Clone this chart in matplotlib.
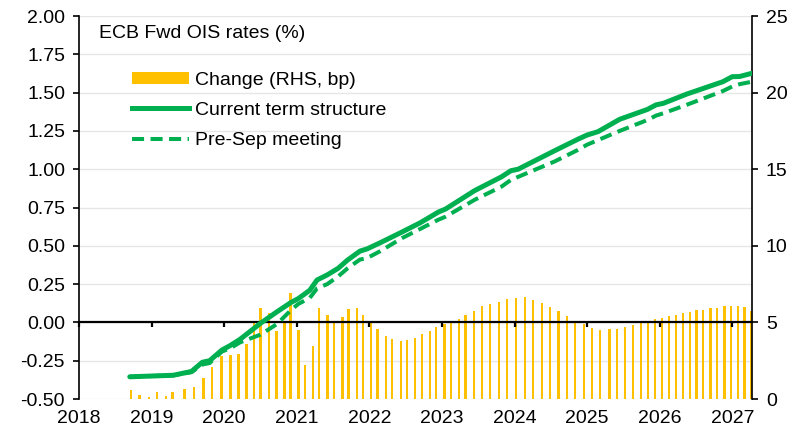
import numpy as np
import matplotlib.pyplot as plt
from matplotlib.patches import Patch
from matplotlib.lines import Line2D

plt.rcParams['font.family'] = ['Liberation Sans', 'DejaVu Sans']

# change between the two curves, bp (right axis), at each forward date
bar_dates = [2018.72, 2018.835, 2018.968, 2019.078, 2019.202, 2019.289, 2019.454, 2019.587, 2019.715, 2019.829,
             2019.963, 2020.087, 2020.197, 2020.31, 2020.413, 2020.503, 2020.619, 2020.723, 2020.83, 2020.912,
             2021.025, 2021.114, 2021.225, 2021.308, 2021.424, 2021.517, 2021.632, 2021.714, 2021.831, 2021.916,
             2022.026, 2022.113, 2022.233, 2022.315, 2022.435, 2022.517, 2022.631, 2022.723, 2022.838, 2022.920,
             2023.034, 2023.122, 2023.236, 2023.323, 2023.443, 2023.553, 2023.667, 2023.783, 2023.897, 2024.021,
             2024.141, 2024.259, 2024.378, 2024.492, 2024.608, 2024.722, 2024.837, 2024.956, 2025.066, 2025.18,
             2025.31, 2025.41, 2025.52, 2025.63, 2025.74, 2025.836, 2025.932, 2026.029, 2026.129, 2026.221,
             2026.318, 2026.414, 2026.506, 2026.597, 2026.699, 2026.79, 2026.891, 2026.987, 2027.078, 2027.17, 2027.267]
bar_bp = [0.59, 0.26, 0.11, 0.44, 0.20, 0.48, 0.68, 0.79, 1.39, 2.08,
          2.80, 2.85, 2.94, 3.61, 4.95, 5.95, 5.62, 4.46, 4.97, 6.91,
          4.52, 2.19, 3.49, 5.93, 5.50, 5.10, 5.34, 5.85, 5.95, 5.50,
          4.97, 4.54, 4.13, 3.89, 3.81, 3.83, 3.98, 4.22, 4.46, 4.68,
          4.90, 5.12, 5.25, 5.51, 5.77, 6.04, 6.21, 6.36, 6.50, 6.61,
          6.63, 6.48, 6.28, 6.02, 5.73, 5.43, 5.10, 4.88, 4.66, 4.53,
          4.55, 4.59, 4.70, 4.86, 4.96, 5.10, 5.20, 5.31, 5.40, 5.51,
          5.60, 5.71, 5.79, 5.84, 5.91, 5.97, 6.04, 6.04, 6.04, 5.99, 5.77]

# forward OIS curves, % (left axis)
line_dates = [2018.70, 2019.0, 2019.30, 2019.55, 2019.70, 2019.80, 2019.97, 2020.08, 2020.22, 2020.50,
              2020.73, 2020.92, 2021.02, 2021.18, 2021.28, 2021.42, 2021.57, 2021.70, 2021.87, 2021.97,
              2022.15, 2022.45, 2022.70, 2022.95, 2023.05, 2023.25, 2023.45, 2023.82, 2023.95, 2024.05,
              2024.55, 2024.87, 2025.0, 2025.15, 2025.45, 2025.83, 2025.95, 2026.05, 2026.37, 2026.87,
              2027.0, 2027.1, 2027.27]
current = [-0.355, -0.35, -0.345, -0.32, -0.26, -0.25, -0.18, -0.152, -0.11, -0.006,
           0.07, 0.13, 0.155, 0.21, 0.277, 0.31, 0.353, 0.407, 0.465, 0.48,
           0.52, 0.59, 0.65, 0.72, 0.74, 0.80, 0.86, 0.95, 0.99, 1.00,
           1.12, 1.195, 1.223, 1.245, 1.326, 1.39, 1.42, 1.43, 1.49, 1.571,
           1.604, 1.605, 1.626]
pre_sep = [-0.355, -0.35, -0.345, -0.325, -0.275, -0.265, -0.19, -0.17, -0.13, -0.08,
           -0.01, 0.08, 0.12, 0.16, 0.222, 0.25, 0.30, 0.353, 0.41, 0.42,
           0.465, 0.55, 0.61, 0.67, 0.69, 0.745, 0.80, 0.886, 0.93, 0.95,
           1.05, 1.125, 1.16, 1.19, 1.25, 1.321, 1.35, 1.365, 1.42, 1.51,
           1.54, 1.555, 1.571]

years = list(range(2018, 2028))

gold = '#FFC000'
green = '#00B050'
fs = 14

fig = plt.figure(figsize=(8.05, 4.29), dpi=100)
ax2 = fig.add_axes([0.0981, 0.0699, 0.8359, 0.8928])
ax = ax2.twinx()
ax.yaxis.tick_left()
ax.yaxis.set_label_position('left')
ax.xaxis.set_visible(True)
ax2.yaxis.tick_right()
ax.set_zorder(ax2.get_zorder() + 1)
ax.patch.set_visible(False)

# bars on the right axis, drawn behind the lines
ax2.bar(bar_dates, bar_bp, width=0.032, color=gold, zorder=2)
ax2.set_ylim(0, 25)
ax2.set_yticks(np.arange(0, 26, 5))
ax2.set_yticks(np.arange(0, 26, 2.5), minor=True)
ax2.yaxis.grid(True, which='both', color='#e6e6e6', lw=1, zorder=0)
ax2.set_axisbelow(True)
ax2.tick_params(axis='y', which='major', direction='out', length=4, width=1.2, labelsize=fs, pad=6)
ax2.tick_params(axis='y', which='minor', length=0)
ax2.tick_params(axis='x', length=0, labelbottom=False)
for s in ['top', 'left', 'bottom']:
    ax2.spines[s].set_visible(False)
ax2.spines['right'].set_linewidth(1.2)

ax.plot(line_dates, current, color=green, lw=3.6, solid_capstyle='round', zorder=4)
ax.plot(line_dates, pre_sep, color=green, lw=2.9, ls=(0, (3, 1.6)), zorder=3)
ax.set_ylim(-0.5, 2.0)
ax.set_yticks(np.arange(-0.5, 2.01, 0.25))
ax.set_yticklabels([f'{v:.2f}' for v in np.arange(-0.5, 2.01, 0.25)])
ax.set_xlim(2018, 2027.27)
ax.set_xticks(years)
ax.set_xticklabels([str(y) for y in years])
ax.spines['bottom'].set_position(('data', 0))
ax.spines['bottom'].set_linewidth(1.6)
ax.spines['left'].set_linewidth(1.2)
ax.spines['top'].set_visible(False)
ax.spines['right'].set_visible(False)
ax.tick_params(axis='y', direction='out', length=4, width=1.2, labelsize=fs, pad=6)
ax.tick_params(axis='x', direction='out', length=3.6, width=1.6, labelsize=fs, pad=59.5)

ax.text(0.0297, 0.955, 'ECB Fwd OIS rates (%)', transform=ax.transAxes,
        fontsize=fs, va='center', ha='left')

handles = [Patch(facecolor=gold, edgecolor='none'),
           Line2D([], [], color=green, lw=3.6),
           Line2D([], [], color=green, lw=2.9, ls=(0, (3, 1.6)))]
labels = ['Change (RHS, bp)', 'Current term structure', 'Pre-Sep meeting']
ax.legend(handles, labels, loc='upper left', bbox_to_anchor=(0.0788, 0.855),
          frameon=False, fontsize=fs, handlelength=2.95, handleheight=0.55,
          handletextpad=0.3, labelspacing=0.68, borderpad=0, borderaxespad=0)

fig.savefig('out.png', dpi=100)
